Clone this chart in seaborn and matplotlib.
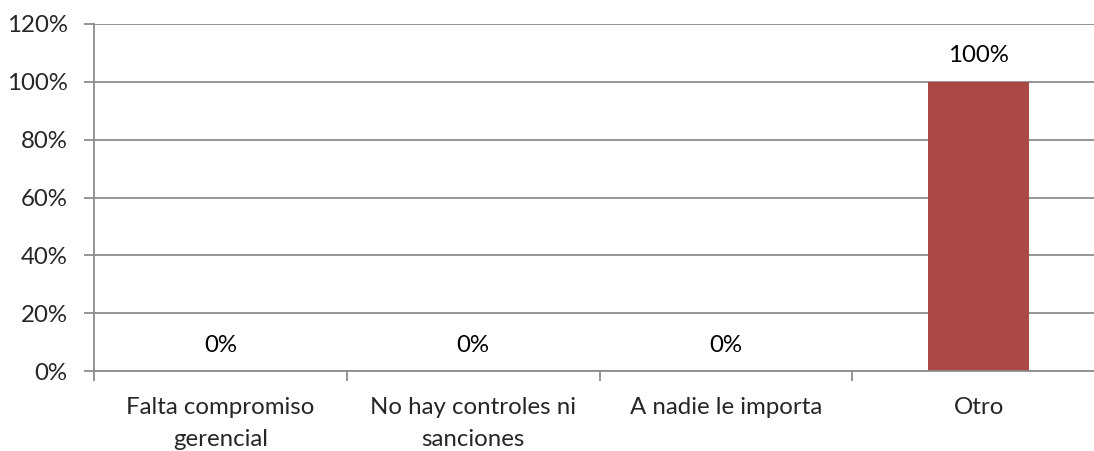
import matplotlib
matplotlib.use("Agg")
import matplotlib.pyplot as plt
import seaborn as sns
import pandas as pd
from matplotlib.ticker import PercentFormatter, FixedLocator

categories = ["Falta compromiso\ngerencial", "No hay controles ni\nsanciones",
              "A nadie le importa", "Otro"]
values = [0, 0, 0, 100]

sns.set_theme(style="white")
plt.rcParams["font.family"] = ["Lato", "DejaVu Sans"]

FS = 17.3
df = pd.DataFrame({"cat": categories, "val": values})

fig = plt.figure(figsize=(10.94, 4.51), dpi=100)
ax = fig.add_axes([94 / 1094, 80 / 451, 1 - 94 / 1094, (371 - 24) / 451])

sns.barplot(data=df, x="cat", y="val", color="#AB4946", width=0.4,
            saturation=1, linewidth=0, ax=ax, zorder=3)

ax.set_ylim(0, 120)
ax.set_xlim(-0.5, 3.456)
ax.set_yticks(range(0, 121, 20))
ax.yaxis.set_major_formatter(PercentFormatter(decimals=0))
ax.yaxis.grid(True, color="#8C8C8C", linewidth=1.3, zorder=0)
ax.set_axisbelow(True)

for s in ["top", "right"]:
    ax.spines[s].set_visible(False)
for s in ["left", "bottom"]:
    ax.spines[s].set_color("#8C8C8C")
    ax.spines[s].set_linewidth(1.3)
    ax.spines[s].set_zorder(4)

# category boundary ticks on the x axis, labels centred under each bar
ax.xaxis.set_major_locator(FixedLocator([-0.5, 0.5, 1.5, 2.5, 3.5]))
ax.xaxis.set_minor_locator(FixedLocator([0, 1, 2, 3]))
ax.set_xticklabels([""] * 5)
ax.set_xticklabels(categories, minor=True, fontsize=FS, linespacing=1.62)
ax.tick_params(axis="x", which="major", bottom=True, length=7, width=1.3,
               color="#8C8C8C")
ax.tick_params(axis="x", which="minor", bottom=False, length=0, pad=19)
ax.tick_params(axis="y", left=True, length=7, width=1.3, color="#8C8C8C",
               labelsize=FS, pad=12)
for lbl in ax.get_xticklabels(minor=True):
    lbl.set_verticalalignment("top")

ax.set_xlabel("")
ax.set_ylabel("")

for i, v in enumerate(values):
    ax.annotate(f"{v}%", (i, v), xytext=(0, 26), textcoords="offset pixels",
                ha="center", va="center", fontsize=FS, color="#000000")

fig.savefig("out.png", dpi=100)
